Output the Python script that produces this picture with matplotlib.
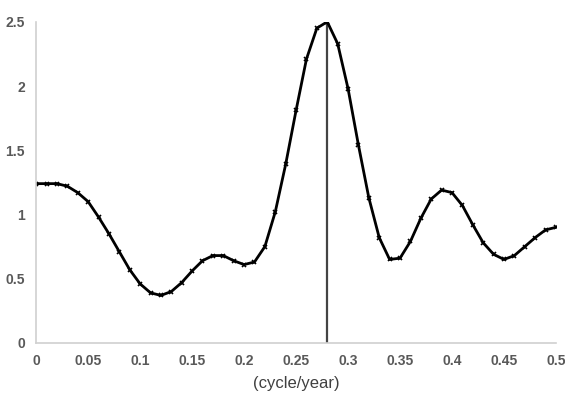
import numpy as np
import matplotlib.pyplot as plt

# frequency (cycle/year) and spectral values
freq = np.round(np.arange(0, 0.501, 0.01), 2)
power = [1.24, 1.24, 1.24, 1.22, 1.17, 1.10, 0.98, 0.85, 0.71, 0.57,
         0.46, 0.39, 0.37, 0.40, 0.47, 0.56, 0.64, 0.68, 0.68, 0.64,
         0.61, 0.63, 0.75, 1.02, 1.39, 1.81, 2.21, 2.45, 2.50, 2.33,
         1.98, 1.54, 1.13, 0.82, 0.65, 0.66, 0.79, 0.97, 1.12, 1.19,
         1.17, 1.07, 0.92, 0.78, 0.69, 0.65, 0.68, 0.75, 0.82, 0.88,
         0.90]
peak_freq = 0.28
xticks = [0, 0.05, 0.1, 0.15, 0.2, 0.25, 0.3, 0.35, 0.4, 0.45, 0.5]
xtick_labels = ['0', '0.05', '0.1', '0.15', '0.2', '0.25', '0.3', '0.35', '0.4', '0.45', '0.5']
yticks = [0, 0.5, 1, 1.5, 2, 2.5]
ytick_labels = ['0', '0.5', '1', '1.5', '2', '2.5']

plt.rcParams['font.family'] = ['Liberation Sans Narrow', 'Liberation Sans', 'DejaVu Sans']

fig = plt.figure(figsize=(5.65, 3.96), dpi=100)
ax = fig.add_axes([0.064, 0.134, 0.92, 0.811])

ax.plot(freq, power, color='black', lw=2, marker='x', ms=3.5, mew=1.2)
ax.vlines(peak_freq, -0.03, 2.5, color='#444444', lw=1.6, zorder=1)

ax.set_xlim(0, 0.5)
ax.set_ylim(0, 2.5)
ax.set_xticks(xticks)
ax.set_xticklabels(xtick_labels)
ax.set_yticks(yticks)
ax.set_yticklabels(ytick_labels)
ax.tick_params(length=0, labelsize=10, labelcolor='#595959', pad=8)
for lab in ax.get_xticklabels() + ax.get_yticklabels():
    lab.set_fontweight('bold')

for side in ['top', 'right']:
    ax.spines[side].set_visible(False)
for side in ['left', 'bottom']:
    ax.spines[side].set_color('#d0d0d0')
    ax.spines[side].set_linewidth(1.2)
ax.set_clip_on(False)

ax.set_xlabel('(cycle/year)', fontsize=12, color='#404040', labelpad=6)

fig.savefig('out.png', dpi=100)
